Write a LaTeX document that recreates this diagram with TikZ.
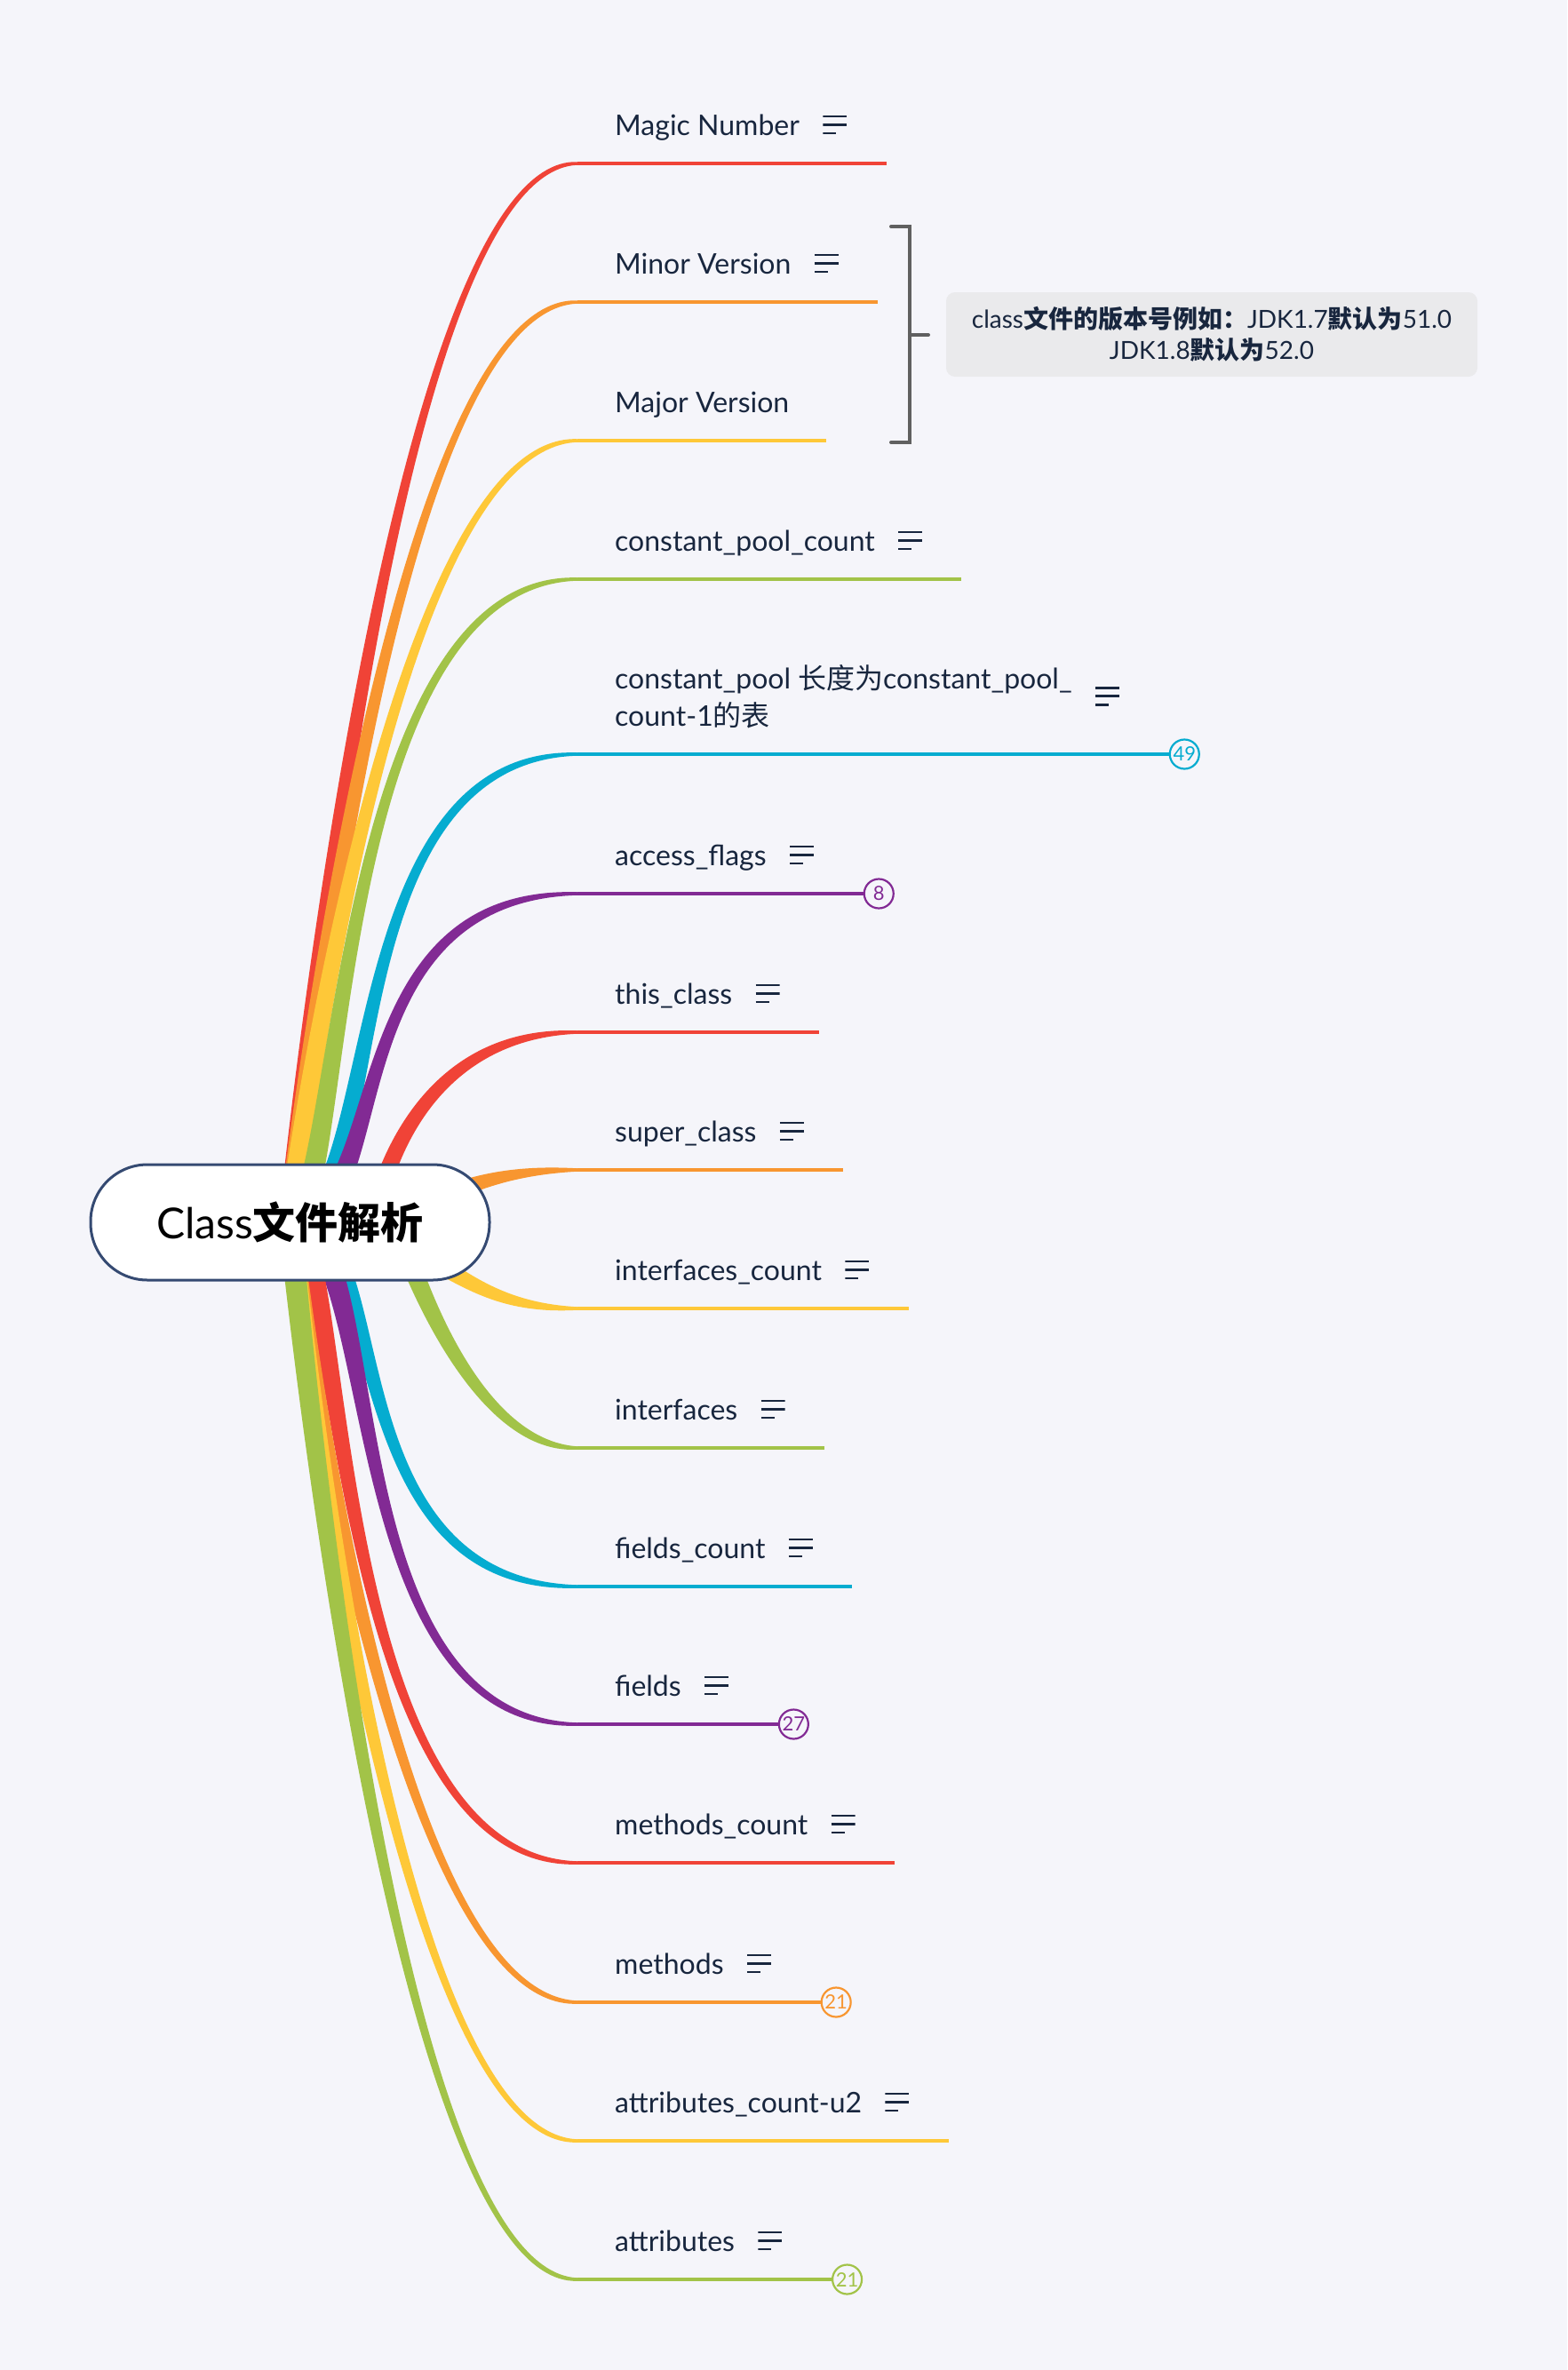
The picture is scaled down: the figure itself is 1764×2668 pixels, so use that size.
\documentclass[tikz,border=0pt]{standalone}
\usepackage{fontspec}
\setmainfont{Lato}
\newfontfamily\cjk{Noto Sans CJK SC}
\usetikzlibrary{calc}
\pgfdeclarelayer{bgl}
\pgfsetlayers{bgl,main}
\definecolor{bg}{RGB}{245,245,250}
\definecolor{cred}{RGB}{240,67,55}
\definecolor{corange}{RGB}{248,150,48}
\definecolor{cyellow}{RGB}{254,200,56}
\definecolor{cgreen}{RGB}{162,195,72}
\definecolor{ccyan}{RGB}{5,172,208}
\definecolor{cpurple}{RGB}{130,42,148}
\definecolor{ink}{RGB}{24,38,62}
\definecolor{rootborder}{RGB}{53,74,114}
\definecolor{bracketc}{RGB}{96,96,96}
\definecolor{calloutbg}{RGB}{234,234,236}
\tikzset{
  lbl/.style={anchor=base west, inner sep=0pt, text=ink, font=\fontsize{32}{42}\selectfont},
  noteicon/.style={anchor=west, inner sep=0pt, minimum width=27pt, minimum height=24pt,
    path picture={
      \draw[ink, line width=2.8pt] ([yshift=9.5pt]path picture bounding box.west) -- ([yshift=9.5pt]path picture bounding box.east);
      \draw[ink, line width=2.8pt] (path picture bounding box.west) -- (path picture bounding box.east);
      \draw[ink, line width=2.8pt] ([yshift=-9.5pt]path picture bounding box.west) -- ++(15pt,0);
    }},
  uline/.style={line width=3.5pt},
  badge/.style={circle, draw=#1, line width=2.2pt, fill=bg, text=#1, minimum size=33pt, inner sep=0pt, font=\fontsize{22}{22}\selectfont},
}
% tapered curve from (hidden) root interior to branch start #2;
% #3 start shift inside root, #4 start pull, #5 end pull
\newcommand\taper[5]{%
  \path ($(root.center)+(#3,0)$) coordinate (P0) ($(root.center)+(#3+#4,0)$) coordinate (P1)
        (#2) coordinate (P3) ($(#2)+(-#5,0)$) coordinate (P2);
  \path ($(P0)!13pt!90:(P3)$) coordinate (P0a) ($(P0)!13pt!-90:(P3)$) coordinate (P0b);
  \path ($(P1)+(P0a)-(P0)$) coordinate (P1a) ($(P1)+(P0b)-(P0)$) coordinate (P1b);
  \fill[#1] (P0a) .. controls (P1a) and ($(P2)+(0,-10)$) .. ($(P3)+(0,-1.75)$)
     -- ($(P3)+(0,1.75)$) .. controls ($(P2)+(0,10)$) and (P1b) .. (P0b) -- cycle;
}
% topic with note icon: id, colour, y, shift, pull, endpull, text
\newcommand\topic[7]{%
  \coordinate (b#1) at (650,#3);
  \node[lbl] (t#1) at (692,#3-32) {#7};
  \node[noteicon] (ic#1) at ($(t#1.base east)+(26,-11.5)$) {};
  \coordinate (x#1) at ($(ic#1.east)+(44,0)$);
  \coordinate (e#1) at (x#1 |- b#1);
  \draw[uline,#2] (b#1) -- (e#1);
  \begin{pgfonlayer}{bgl}\taper{#2}{b#1}{#4}{#5}{#6}\end{pgfonlayer}
}
% topic with note icon and count badge
\newcommand\btopic[8]{%
  \coordinate (b#1) at (650,#3);
  \node[lbl] (t#1) at (692,#3-32) {#7};
  \node[noteicon] (ic#1) at ($(t#1.base east)+(26,-11.5)$) {};
  \coordinate (x#1) at ($(ic#1.east)+(73,0)$);
  \node[badge=#2] (n#1) at (x#1 |- b#1) {#8};
  \draw[uline,#2] (b#1) -- (n#1.west);
  \begin{pgfonlayer}{bgl}\taper{#2}{b#1}{#4}{#5}{#6}\end{pgfonlayer}
}
\begin{document}
\begin{tikzpicture}[x=1pt,y=-1pt]
\useasboundingbox (0,0) rectangle (1764,2668);
\begin{pgfonlayer}{bgl}
  \fill[bg] (0,0) rectangle (1764,2668);
\end{pgfonlayer}

\node[draw=rootborder, line width=3pt, fill=white, rounded corners=64pt,
      minimum width=449pt, minimum height=130pt, inner sep=0pt, text=black,
      font=\fontsize{48}{48}\selectfont] (root) at (326.5,1376) {Class{\cjk\bfseries 文件解析}};

\topic{1}{cred}{184}{0}{0}{217}{Magic Number}
\topic{2}{corange}{340}{0}{0}{217}{Minor Version}

% Major Version (no note icon)
\coordinate (b3) at (650,496);
\node[lbl] (t3) at (692,464) {Major Version};
\coordinate (x3) at ($(t3.base east)+(42,0)$);
\coordinate (e3) at (x3 |- b3);
\draw[uline,cyellow] (b3) -- (e3);
\begin{pgfonlayer}{bgl}\taper{cyellow}{b3}{0}{0}{217}\end{pgfonlayer}

\topic{4}{cgreen}{652}{0}{60}{280}{constant\_pool\_count}

% constant_pool (two lines)
\coordinate (b5) at (650,849);
\node[lbl, align=left] (t5) at (692,817) {constant\_pool {\cjk 长度为}constant\_pool\_\\count-1{\cjk 的表}};
\node[noteicon] (ic5) at ($(t5.east)+(26,0)$) {};
\coordinate (x5) at ($(ic5.east)+(73,0)$);
\node[badge=ccyan] (n5) at (x5 |- b5) {49};
\draw[uline,ccyan] (b5) -- (n5.west);
\begin{pgfonlayer}{bgl}\taper{ccyan}{b5}{0}{110}{280}\end{pgfonlayer}

\btopic{6}{cpurple}{1006}{0}{120}{280}{access\_flags}{8}
\topic{7}{cred}{1162}{94}{0}{200}{this\_class}
\topic{8}{corange}{1317}{0}{170}{150}{super\_class}
\topic{9}{cyellow}{1473}{0}{170}{150}{interfaces\_count}
\topic{10}{cgreen}{1630}{120}{0}{130}{interfaces}
\topic{11}{ccyan}{1786}{0}{120}{280}{fields\_count}
\btopic{12}{cpurple}{1941}{0}{110}{280}{fields}{27}
\topic{13}{cred}{2097}{0}{60}{280}{methods\_count}
\btopic{14}{corange}{2254}{0}{0}{217}{methods}{21}
\topic{15}{cyellow}{2410}{0}{0}{217}{attributes\_count-u2}
\btopic{16}{cgreen}{2566}{0}{0}{217}{attributes}{21}

% summary bracket and note
\coordinate (brt) at (1003,255);
\coordinate (brb) at (1003,498);
\coordinate (brm) at (1024,377);
\node[fill=calloutbg, rounded corners=10pt, minimum width=598pt, minimum height=95pt,
      inner sep=0pt, align=center, text=ink, font=\fontsize{28}{35}\selectfont]
      (note) at (1364,376.5) {class{\cjk\bfseries 文件的版本号例如：}JDK1.7{\cjk\bfseries 默认为}51.0\\JDK1.8{\cjk\bfseries 默认为}52.0};
\draw[bracketc, line width=4pt, line cap=round] (brt) -- (brt -| brm) -- (brb -| brm) -- (brb);
\draw[bracketc, line width=4pt, line cap=round] (brm) -- ++(21,0) coordinate (brtip);
\end{tikzpicture}
\end{document}
